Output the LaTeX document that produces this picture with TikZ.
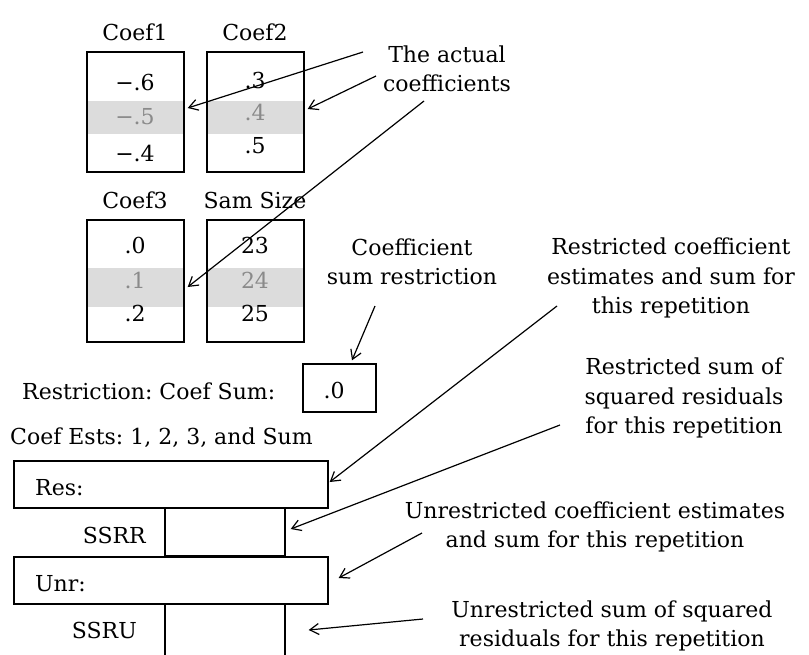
\documentclass[tikz,border=0pt]{standalone}
\usepackage{fontspec}
\setmainfont{DejaVu Serif}
\usetikzlibrary{arrows.meta,calc}
\definecolor{bandc}{HTML}{DCDCDC}
\definecolor{graytxt}{HTML}{8A8A8A}
\begin{document}
\begin{tikzpicture}[x=1pt,y=-1pt,
  txt/.style={inner sep=0pt,font=\fontsize{22}{29.5}\selectfont\frenchspacing,align=center},
  box/.style={draw,line width=1.4pt,inner sep=0pt},
  val/.style={txt},
  gval/.style={txt,text=graytxt},
  arr/.style={line width=1.2pt,-{Straight Barb[length=9pt,width=11pt,line width=1.2pt]}}]
\useasboundingbox (0,0) rectangle (809,654);
% gray bands
\fill[bandc] (87,101) rectangle (184,134);
\fill[bandc] (207,101) rectangle (304,134);
\fill[bandc] (87,268) rectangle (184,307);
\fill[bandc] (207,268) rectangle (304,307);
% headers
\node[txt] (h1) at (135,32) {Coef1};
\node[txt] (h2) at (255,32) {Coef2};
\node[txt] (h3) at (135,200) {Coef3};
\node[txt] (h4) at (255,200) {Sam Size};
% boxes
\node[box,minimum width=97,minimum height=120] (c1) at (135.5,112) {};
\node[box,minimum width=97,minimum height=120] (c2) at (255.5,112) {};
\node[box,minimum width=97,minimum height=122] (c3) at (135.5,281) {};
\node[box,minimum width=97,minimum height=122] (c4) at (255.5,281) {};
% values
\node[val]  (v11) at (135,82)  {−.6};
\node[gval] (v12) at (135,117) {−.5};
\node[val]  (v13) at (135,153) {−.4};
\node[val]  (v21) at (255,80)  {.3};
\node[gval] (v22) at (255,112) {.4};
\node[val]  (v23) at (255,146) {.5};
\node[val]  (v31) at (135,245) {.0};
\node[gval] (v32) at (135,280) {.1};
\node[val]  (v33) at (135,313) {.2};
\node[val]  (v41) at (255,245) {23};
\node[gval] (v42) at (255,280) {24};
\node[val]  (v43) at (255,313) {25};
% restriction
\node[txt,anchor=west] (rlab) at (22,391) {Restriction: Coef Sum:};
\node[box,minimum width=73,minimum height=48] (rbox) at (339.5,388) {};
\node[val] (rval) at (334,390) {.0};
% estimates
\node[txt,anchor=west] (elab) at (10,438) {Coef Ests: 1, 2, 3, and Sum};
\node[box,minimum width=314,minimum height=47] (res) at (171,484.5) {};
\node[txt,anchor=west] (reslab) at (35,488) {Res:};
\node[box,minimum width=120,minimum height=48] (ssrr) at (225,532) {};
\node[txt,anchor=east] (ssrrlab) at (146,535) {SSRR};
\node[box,minimum width=314,minimum height=47] (unr) at (171,580.5) {};
\node[txt,anchor=west] (unrlab) at (35,584) {Unr:};
\node[box,minimum width=120,minimum height=52] (ssru) at (225,630) {};
\node[txt,anchor=east] (ssrulab) at (137,630) {SSRU};
% annotations
\node[txt] (tact) at (447,69) {The actual\\coefficients};
\node[txt] (tcsr) at (412,262) {Coefficient\\sum restriction};
\node[txt] (trc) at (671,278) {Restricted coefficient\\estimates and sum for\\this repetition};
\node[txt] (trs) at (684,398) {Restricted sum of\\squared residuals\\for this repetition};
\node[txt] (tuc) at (595,527) {Unrestricted coefficient estimates\\and sum for this repetition};
\node[txt] (tus) at (612,626) {Unrestricted sum of squared\\residuals for this repetition};
% arrow starts
\coordinate (s1) at (363,52);
\coordinate (s2) at (376,76);
\coordinate (s3) at (424,101);
\coordinate (s4) at (375,306);
\coordinate (s5) at (557,306);
\coordinate (s6) at (560,425);
\coordinate (s7) at (422,533);
\coordinate (s8) at (423,619);
% arrows
\draw[arr] (s1) -- ($(c1.east)+(3,-4)$);
\draw[arr] (s2) -- ($(c2.east)+(3,-3)$);
\draw[arr] (s3) -- ($(c3.east)+(3,6)$);
\draw[arr] (s4) -- ($(rbox.north)+(12.5,-3)$);
\draw[arr] (s5) -- ($(res.east)+(1,-2.5)$);
\draw[arr] (s6) -- ($(ssrr.east)+(5,-3)$);
\draw[arr] (s7) -- ($(unr.east)+(10,-2.5)$);
\draw[arr] (s8) -- ($(ssru.east)+(23,0)$);
\end{tikzpicture}
\end{document}
